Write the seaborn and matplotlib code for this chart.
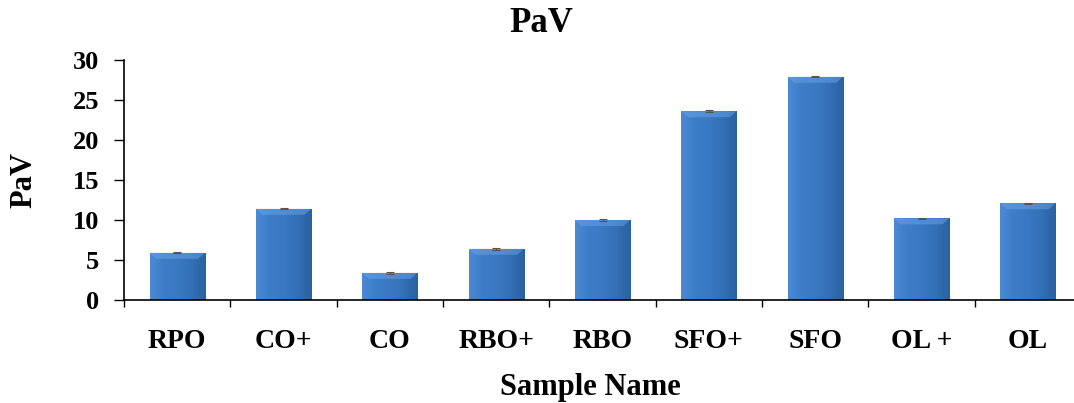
import numpy as np
import pandas as pd
import matplotlib
matplotlib.use("Agg")
import matplotlib.pyplot as plt
from matplotlib.colors import LinearSegmentedColormap
from matplotlib.ticker import FixedLocator
import seaborn as sns

# --- data ---
samples = ['RPO', 'CO+', 'CO', 'RBO+', 'RBO', 'SFO+', 'SFO', 'OL +', 'OL']
pav = [5.9, 11.4, 3.4, 6.4, 10.0, 23.6, 27.9, 10.2, 12.1]
pav_err = [0.08, 0.05, 0.15, 0.15, 0.12, 0.15, 0.05, 0.05, 0.05]
y_ticks = [0, 5, 10, 15, 20, 25, 30]

df = pd.DataFrame({'sample': samples, 'pav': pav, 'err': pav_err})

sns.set_theme(style="white")
plt.rcParams['font.family'] = ['Liberation Serif', 'DejaVu Serif']
plt.rcParams['font.weight'] = 'bold'

fig = plt.figure(figsize=(10.74, 4.03), dpi=100)
ax = fig.add_axes([124 / 1074, 1 - 300 / 403, 957 / 1074, 240 / 403])

sns.barplot(data=df, x='sample', y='pav', color='#3b78c2', width=0.52,
            edgecolor='#5f93d3', linewidth=0.6, ax=ax, errorbar=None)

# shaded fill inside each bar, clipped to the bar shape
shade = LinearSegmentedColormap.from_list(
    'bar', ['#4a8ad4', '#3d7dc8', '#3a78c2', '#3370b6', '#2b619f'])
grad = np.tile(np.linspace(0, 1, 64), (64, 1))
for bar in ax.patches:
    x0, w, h = bar.get_x(), bar.get_width(), bar.get_height()
    img = ax.imshow(grad, cmap=shade, aspect='auto', extent=[x0, x0 + w, 0, h],
                    zorder=bar.get_zorder() + 0.1, interpolation='bicubic')
    img.set_clip_path(bar)
    # top bevel highlight
    ax.fill([x0, x0 + w, x0 + w * 0.88, x0 + w * 0.12],
            [h, h, h - 0.75, h - 0.75], color='#6ba4e6', alpha=0.5,
            zorder=bar.get_zorder() + 0.2, lw=0)

ax.errorbar(range(len(samples)), df['pav'], yerr=df['err'], fmt='none',
            ecolor='#555555', elinewidth=0.8, capsize=3, capthick=0.8, zorder=5)

ax.set_xlim(-0.5, len(samples) - 0.5)
ax.set_ylim(0, 30)
ax.set_yticks(y_ticks)
ax.xaxis.set_minor_locator(FixedLocator(np.arange(-0.5, len(samples), 1.0)))

sns.despine(ax=ax)
for side in ['left', 'bottom']:
    ax.spines[side].set_color('black')
    ax.spines[side].set_linewidth(1.2)

ax.tick_params(axis='y', which='major', direction='out', length=7, width=1,
               color='black', labelsize=19, pad=11, left=True)
ax.tick_params(axis='x', which='major', length=0, labelsize=20, pad=21)
ax.tick_params(axis='x', which='minor', direction='out', length=5, width=1,
               color='black', bottom=True)
for lab in ax.get_xticklabels() + ax.get_yticklabels():
    lab.set_fontweight('bold')
    lab.set_color('black')

ax.set_xlabel('Sample Name', fontsize=22, fontweight='bold', color='black')
ax.set_ylabel('PaV', fontsize=22, fontweight='bold', color='black')
ax.xaxis.set_label_coords((590 - 124) / 957, (300 - 373) / 240)
ax.yaxis.set_label_coords((38 - 124) / 957, 0.5)

fig.text(541 / 1074, 1 - 23 / 403, 'PaV', ha='center', va='center',
         fontsize=25, fontweight='bold', color='black')

fig.savefig('out.png', dpi=100)
